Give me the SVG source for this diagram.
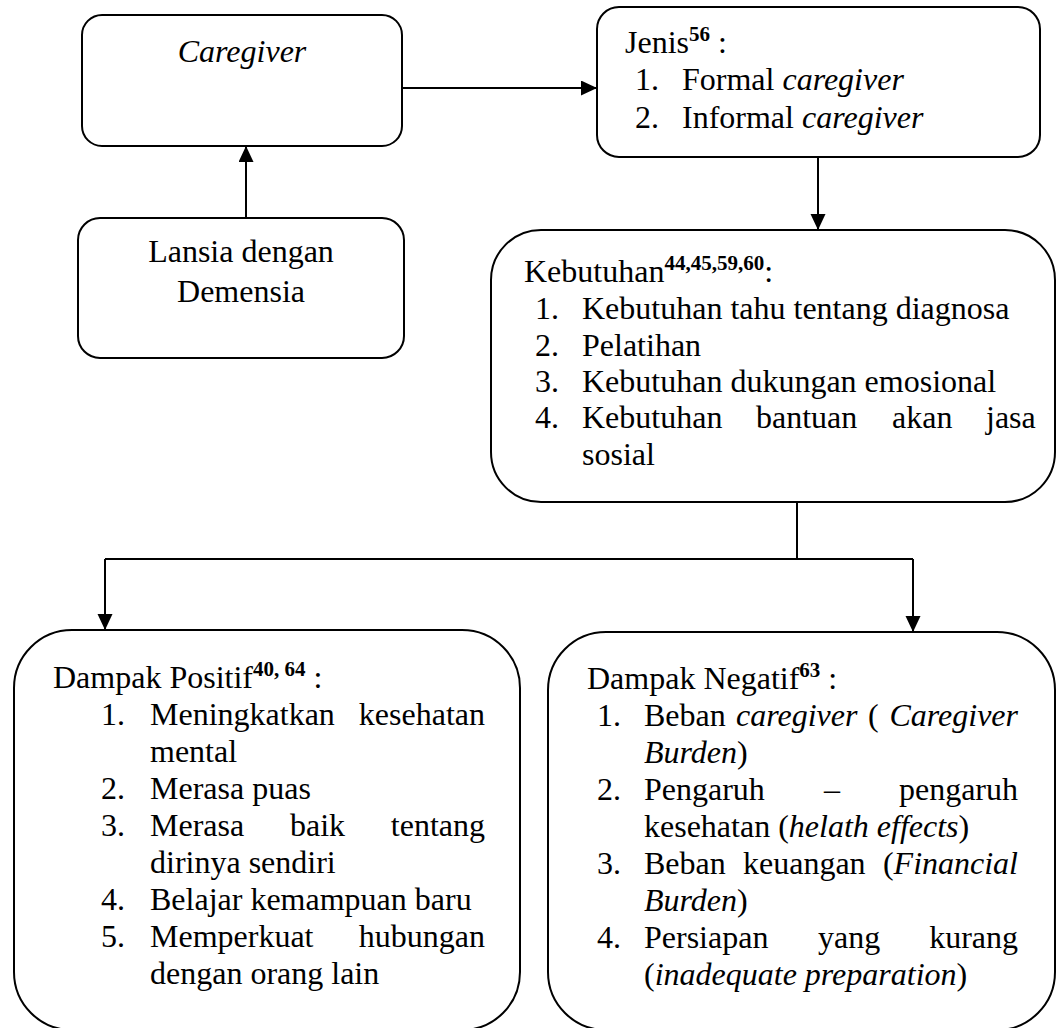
<svg xmlns="http://www.w3.org/2000/svg" width="1056" height="1028" viewBox="0 0 1056 1028">
<style>
  .box{fill:#fff;stroke:#000;stroke-width:2}
  .t{font-family:"Liberation Serif","Times New Roman",serif;font-size:32px;fill:#000}
  .i{font-style:italic}
  .sup{font-weight:bold;font-size:21px}
  .ln{fill:none;stroke:#000;stroke-width:2}
</style>
<defs>
  <marker id="ah" markerUnits="userSpaceOnUse" markerWidth="16" markerHeight="16" refX="16" refY="7.5" orient="auto">
    <path d="M0,0 L16,7.5 L0,15 Z" fill="#000"/>
  </marker>
</defs>
<rect width="1056" height="1028" fill="#fff"/>

<g id="connectors">
  <path class="ln" d="M402,88 H597" marker-end="url(#ah)"/>
  <path class="ln" d="M246,218 V146" marker-end="url(#ah)"/>
  <path class="ln" d="M818,157 V230" marker-end="url(#ah)"/>
  <path class="ln" d="M797,502 V559 M105,559 H913"/>
  <path class="ln" d="M105,559 V630" marker-end="url(#ah)"/>
  <path class="ln" d="M913,559 V632" marker-end="url(#ah)"/>
</g>

<g id="caregiver">
  <rect class="box" x="82" y="15" width="320" height="131" rx="20"/>
  <text class="t i" x="242" y="62" text-anchor="middle">Caregiver</text>
</g>

<g id="jenis">
  <rect class="box" x="597" y="7" width="443" height="150" rx="22"/>
  <text class="t" x="625" y="53">Jenis<tspan class="sup" dy="-12">56</tspan><tspan dy="12"> :</tspan></text>
  <text class="t" x="635" y="90">1.</text>
  <text class="t" x="682" y="90">Formal <tspan class="i">caregiver</tspan></text>
  <text class="t" x="635" y="128">2.</text>
  <text class="t" x="682" y="128">Informal <tspan class="i">caregiver</tspan></text>
</g>

<g id="lansia">
  <rect class="box" x="78" y="218" width="326" height="140" rx="22"/>
  <text class="t" x="241" y="262" text-anchor="middle">Lansia dengan</text>
  <text class="t" x="241" y="302" text-anchor="middle">Demensia</text>
</g>

<g id="kebutuhan">
  <rect class="box" x="491" y="230" width="564" height="272" rx="50"/>
  <text class="t" x="524" y="282">Kebutuhan<tspan class="sup" dy="-12">44,45,59,60</tspan><tspan dy="12">:</tspan></text>
  <text class="t" x="535" y="319">1.</text>
  <text class="t" x="582" y="319">Kebutuhan tahu tentang diagnosa</text>
  <text class="t" x="535" y="356">2.</text>
  <text class="t" x="582" y="356">Pelatihan</text>
  <text class="t" x="535" y="392">3.</text>
  <text class="t" x="582" y="392">Kebutuhan dukungan emosional</text>
  <text class="t" x="535" y="428">4.</text>
  <text class="t" y="428"><tspan x="582">Kebutuhan</tspan><tspan x="756">bantuan</tspan><tspan x="892">akan</tspan><tspan x="986">jasa</tspan></text>
  <text class="t" x="582" y="465">sosial</text>
</g>

<g id="dampak-positif">
  <rect class="box" x="14" y="630" width="506" height="400" rx="58"/>
  <text class="t" x="53" y="688">Dampak Positif<tspan class="sup" dy="-12">40, 64</tspan><tspan dy="12"> :</tspan></text>
  <text class="t" x="101" y="725">1.</text>
  <text class="t" y="725"><tspan x="150">Meningkatkan</tspan></text>
  <text class="t" x="485" y="725" text-anchor="end">kesehatan</text>
  <text class="t" x="150" y="762">mental</text>
  <text class="t" x="101" y="799">2.</text>
  <text class="t" x="150" y="799">Merasa puas</text>
  <text class="t" x="101" y="836">3.</text>
  <text class="t" y="836"><tspan x="150">Merasa</tspan><tspan x="290">baik</tspan></text>
  <text class="t" x="485" y="836" text-anchor="end">tentang</text>
  <text class="t" x="150" y="873">dirinya sendiri</text>
  <text class="t" x="101" y="910">4.</text>
  <text class="t" x="150" y="910">Belajar kemampuan baru</text>
  <text class="t" x="101" y="947">5.</text>
  <text class="t" x="150" y="947">Memperkuat</text>
  <text class="t" x="485" y="947" text-anchor="end">hubungan</text>
  <text class="t" x="150" y="984">dengan orang lain</text>
</g>

<g id="dampak-negatif">
  <rect class="box" x="548" y="632" width="507" height="398" rx="58"/>
  <text class="t" x="587" y="689">Dampak Negatif<tspan class="sup" dy="-12">63</tspan><tspan dy="12"> :</tspan></text>
  <text class="t" x="597" y="726">1.</text>
  <text class="t" y="726"><tspan x="644">Beban</tspan><tspan x="736" class="i">caregiver</tspan><tspan x="868">(</tspan></text>
  <text class="t i" x="1018" y="726" text-anchor="end">Caregiver</text>
  <text class="t" x="644" y="763"><tspan class="i">Burden</tspan>)</text>
  <text class="t" x="597" y="800">2.</text>
  <text class="t" y="800"><tspan x="644">Pengaruh</tspan><tspan x="824">–</tspan></text>
  <text class="t" x="1018" y="800" text-anchor="end">pengaruh</text>
  <text class="t" x="644" y="837">kesehatan (<tspan class="i">helath effects</tspan>)</text>
  <text class="t" x="597" y="874">3.</text>
  <text class="t" y="874"><tspan x="644">Beban</tspan><tspan x="743">keuangan</tspan></text>
  <text class="t" x="1018" y="874" text-anchor="end">(<tspan class="i">Financial</tspan></text>
  <text class="t" x="644" y="911"><tspan class="i">Burden</tspan>)</text>
  <text class="t" x="597" y="948">4.</text>
  <text class="t" y="948"><tspan x="644">Persiapan</tspan><tspan x="818">yang</tspan></text>
  <text class="t" x="1018" y="948" text-anchor="end">kurang</text>
  <text class="t" x="644" y="985">(<tspan class="i">inadequate preparation</tspan>)</text>
</g>
</svg>
